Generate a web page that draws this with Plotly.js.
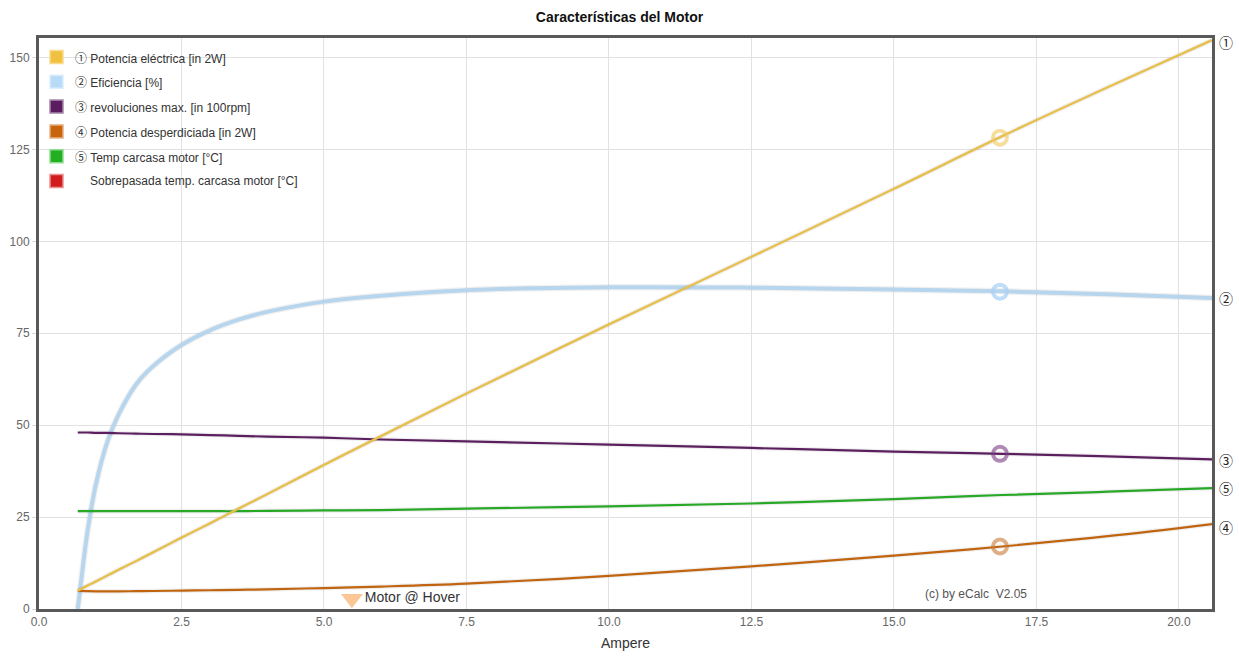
<!DOCTYPE html>
<html>
<head>
<meta charset="utf-8">
<script src="https://cdn.plot.ly/plotly-3.0.1.min.js"></script>
<style>
  html, body { margin: 0; padding: 0; background: #fff; }
  #chart { width: 1239px; height: 659px; }
</style>
</head>
<body>
<div id="chart"></div>
<script>
// ---------------- data ----------------
const ampere = [0.68, 0.75, 0.85, 1.0, 1.2, 1.4, 1.7, 2.0, 2.5, 3.0, 3.5, 4.0, 5.0, 6.0, 7.5, 10.0, 12.5, 15.0, 16.9, 18.75, 20.58];
const potenciaElectrica = [5.0, 5.55, 6.35, 7.5, 9.1, 10.7, 13.0, 15.4, 19.4, 23.3, 27.3, 31.2, 39.2, 47.0, 58.6, 77.4, 95.8, 114.3, 128.6, 141.9, 154.7];
const eficiencia = [0, 9, 21, 34, 45.5, 53, 61, 66, 71.8, 75.8, 78.7, 80.8, 83.6, 85.2, 86.7, 87.5, 87.4, 86.9, 86.4, 85.6, 84.6];
const revoluciones = [48.0, 48.0, 48.0, 47.9, 47.9, 47.8, 47.7, 47.6, 47.5, 47.3, 47.1, 46.9, 46.6, 46.1, 45.6, 44.7, 43.8, 42.8, 42.2, 41.5, 40.7];
const potenciaDesperdiciada = [4.9, 4.9, 4.85, 4.8, 4.8, 4.8, 4.85, 4.9, 5.0, 5.1, 5.2, 5.35, 5.7, 6.1, 6.9, 9.0, 11.6, 14.5, 17.0, 19.8, 23.1];
const tempCarcasa = [26.6, 26.6, 26.6, 26.6, 26.6, 26.6, 26.6, 26.6, 26.6, 26.6, 26.6, 26.7, 26.8, 26.9, 27.3, 27.9, 28.7, 29.9, 31.0, 31.9, 32.9];

// hover point (rings) at the selected current
const hoverAmpere = 16.86;
const hoverElectrica = 128.2;
const hoverEficiencia = 86.3;
const hoverRevoluciones = 42.2;
const hoverDesperdiciada = 17.0;

// "Motor @ Hover" marker
const motorHoverAmpere = 5.49;
const motorHoverValue = 2.8;
const motorHoverText = "Motor @ Hover";

const legendNums = ["\u2460", "\u2461", "\u2462", "\u2463", "\u2464", ""];
const legendLabels = [
  "Potencia eléctrica [in 2W]",
  "Eficiencia [%]",
  "revoluciones max. [in 100rpm]",
  "Potencia desperdiciada [in 2W]",
  "Temp carcasa motor [°C]",
  "Sobrepasada temp. carcasa motor [°C]"
];
const endLabels = ["\u2460", "\u2461", "\u2462", "\u2463", "\u2464"];
const titleText = "Características del Motor";
const xTitle = "Ampere";
const copyrightText = "(c) by eCalc  V2.05";

// ---------------- styles ----------------
const lineColors = {
  elec: "#e7bf4d", ef: "#b7d5ed", rev: "#5b1f5f", desp: "#c1640f", temp: "#27a827"
};
const ringColors = ["rgba(240,200,90,0.6)", "rgba(170,210,245,0.75)", "rgba(120,60,130,0.6)", "rgba(200,120,50,0.6)"];
const legendFill = ["#f0c040", "#b8dbf8", "#5c1c60", "#c8650c", "#22b022", "#d01c1c"];
const legendEdge = ["#f8dc90", "#dceefc", "#a888ac", "#e4b080", "#90dc90", "#ec9090"];

const W = 1239, H = 659;
const M = { l: 39, r: 27, t: 38, b: 50 };
const PW = W - M.l - M.r, PH = H - M.t - M.b;
const pxX = px => (px - M.l) / PW;
const pxY = py => (H - M.b - py) / PH;

const FONT = "Liberation Sans, Arial, Helvetica, sans-serif";
const NUMFONT = "Noto Sans CJK JP, Noto Sans CJK SC, DejaVu Sans, sans-serif";

function lineTrace(y, color, width) {
  return { x: ampere, y: y, type: "scatter", mode: "lines",
    line: { color: color, width: width, shape: "spline", smoothing: 1 },
    hoverinfo: "skip", showlegend: false };
}
function shadowTrace(y, width) {
  return { x: ampere, y: y, type: "scatter", mode: "lines",
    line: { color: "rgba(0,0,0,0.06)", width: width + 2.5, shape: "spline", smoothing: 1 },
    hoverinfo: "skip", showlegend: false };
}

const traces = [
  shadowTrace(eficiencia, 4), lineTrace(eficiencia, lineColors.ef, 4),
  shadowTrace(revoluciones, 2.2), lineTrace(revoluciones, lineColors.rev, 2.2),
  shadowTrace(tempCarcasa, 2.2), lineTrace(tempCarcasa, lineColors.temp, 2.2),
  shadowTrace(potenciaDesperdiciada, 2.2), lineTrace(potenciaDesperdiciada, lineColors.desp, 2.2),
  shadowTrace(potenciaElectrica, 2.4), lineTrace(potenciaElectrica, lineColors.elec, 2.4),
  { x: [hoverAmpere, hoverAmpere, hoverAmpere, hoverAmpere],
    y: [hoverElectrica, hoverEficiencia, hoverRevoluciones, hoverDesperdiciada],
    type: "scatter", mode: "markers", hoverinfo: "skip", showlegend: false,
    marker: { symbol: "circle-open", size: 14, color: ringColors, line: { width: 4 } } },
  { x: [motorHoverAmpere], y: [motorHoverValue], type: "scatter", mode: "markers+text",
    text: [motorHoverText], textposition: "middle right",
    textfont: { family: FONT, size: 14, color: "#333" },
    hoverinfo: "skip", showlegend: false, cliponaxis: false,
    marker: { symbol: "triangle-down", size: 19, color: "#fbc797", line: { width: 0 } } }
];

// manual legend (swatches + texts)
const shapes = [];
const annotations = [];
const rowY0 = 57, rowStep = 24.8;
legendLabels.forEach((lab, i) => {
  const cy = rowY0 + i * rowStep;
  shapes.push({ type: "rect", xref: "paper", yref: "paper",
    x0: pxX(50), x1: pxX(63), y0: pxY(cy + 6.5), y1: pxY(cy - 6.5),
    fillcolor: legendFill[i], line: { color: legendEdge[i], width: 1.5 }, layer: "above" });
  const txt = legendNums[i]
    ? '<span style="font-family:' + NUMFONT + '">' + legendNums[i] + '</span> ' + lab
    : lab;
  annotations.push({ xref: "paper", yref: "paper", x: pxX(i === 5 ? 88 : 73), y: pxY(cy),
    xanchor: "left", yanchor: "middle", text: txt, showarrow: false,
    font: { family: FONT, size: 12, color: "#333" } });
});

// end labels at the right edge
const lastVals = [potenciaElectrica, eficiencia, revoluciones, potenciaDesperdiciada, tempCarcasa]
  .map(a => a[a.length - 1]);
const endOffsets = [-0.6, 0, -0.2, -0.8, 0];
endLabels.forEach((lab, i) => {
  annotations.push({ xref: "paper", yref: "y", x: 1, y: lastVals[i] + endOffsets[i],
    xanchor: "left", yanchor: "middle", xshift: 5, text: lab, showarrow: false,
    font: { family: NUMFONT, size: 14, color: "#222" } });
});

annotations.push({ xref: "paper", yref: "paper", x: pxX(976), y: pxY(594),
  xanchor: "center", yanchor: "middle", text: copyrightText, showarrow: false,
  font: { family: FONT, size: 12, color: "#555" } });

const layout = {
  width: W, height: H,
  margin: M,
  paper_bgcolor: "#fff", plot_bgcolor: "#fff",
  title: { text: "<b>" + titleText + "</b>", x: 0.5, xanchor: "center", y: 1 - 17 / H, yanchor: "middle",
    font: { family: FONT, size: 14, color: "#111" } },
  font: { family: FONT },
  xaxis: {
    range: [0, 20.58], dtick: 2.5, tick0: 0, tickformat: ".1f",
    showgrid: true, gridcolor: "#e2e2e2", gridwidth: 1, zeroline: false,
    showline: true, mirror: true, linecolor: "#595959", linewidth: 3,
    ticks: "", tickfont: { family: FONT, size: 12, color: "#666" },
    title: { text: xTitle, font: { family: FONT, size: 14, color: "#333" }, standoff: 10 }
  },
  yaxis: {
    range: [0, 155.3], dtick: 25, tick0: 0,
    showgrid: true, gridcolor: "#e2e2e2", gridwidth: 1, zeroline: false,
    showline: true, mirror: true, linecolor: "#595959", linewidth: 3,
    ticks: "outside", ticklen: 4, tickcolor: "#d8d8d8",
    tickfont: { family: FONT, size: 12, color: "#666" }
  },
  showlegend: false,
  hovermode: false,
  shapes: shapes,
  annotations: annotations
};

Plotly.newPlot("chart", traces, layout, { displayModeBar: false, staticPlot: true });
</script>
</body>
</html>
